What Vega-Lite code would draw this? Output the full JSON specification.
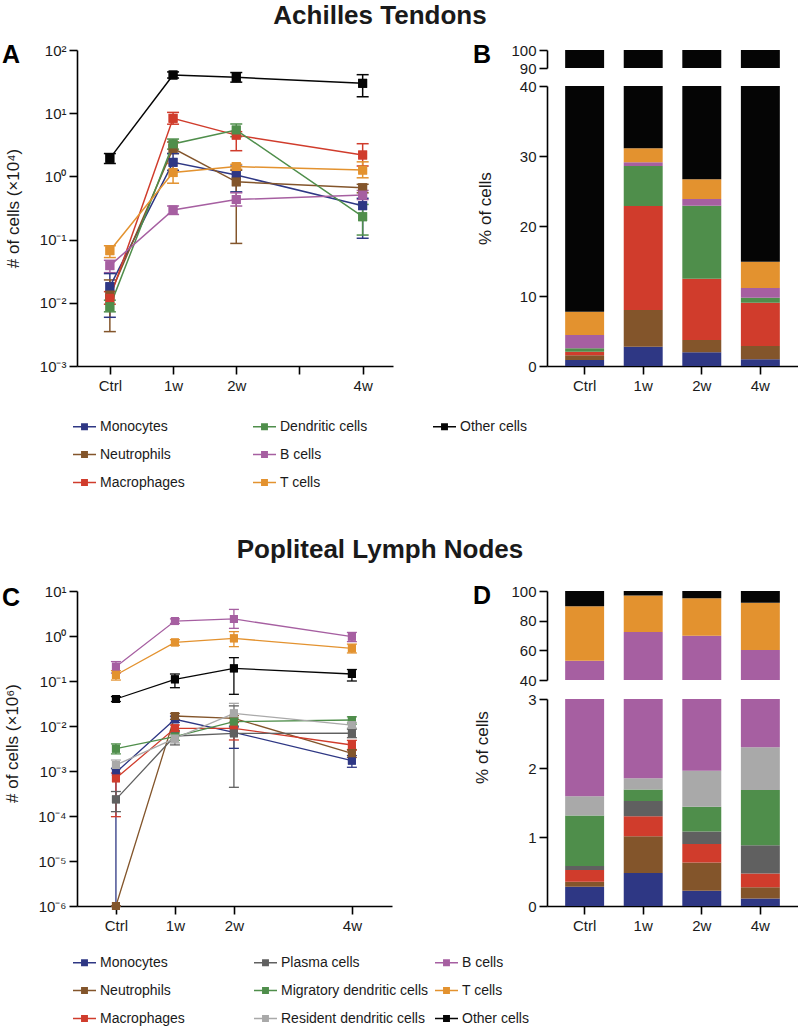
{
"$schema": "https://vega.github.io/schema/vega-lite/v6.json",
"background": "white",
"padding": {"left": 2, "top": 3, "right": 0, "bottom": 0},
"datasets": {
"A": [
{"cell":"Monocytes","t":0,"v":0.018,"lo":0.0059,"hi":0.029},
{"cell":"Monocytes","t":1,"v":1.67,"lo":1.25,"hi":2.3},
{"cell":"Monocytes","t":2,"v":1.05,"lo":0.57,"hi":1.45},
{"cell":"Monocytes","t":4,"v":0.344,"lo":0.105,"hi":0.45},
{"cell":"Neutrophils","t":0,"v":0.0133,"lo":0.0035,"hi":0.023},
{"cell":"Neutrophils","t":1,"v":2.78,"lo":2.3,"hi":3.5},
{"cell":"Neutrophils","t":2,"v":0.82,"lo":0.087,"hi":1.25},
{"cell":"Neutrophils","t":4,"v":0.66,"lo":0.55,"hi":0.75},
{"cell":"Macrophages","t":0,"v":0.0118,"lo":0.0095,"hi":0.015},
{"cell":"Macrophages","t":1,"v":8.3,"lo":6.7,"hi":10.3},
{"cell":"Macrophages","t":2,"v":4.5,"lo":2.55,"hi":5.1},
{"cell":"Macrophages","t":4,"v":2.18,"lo":1.46,"hi":3.29},
{"cell":"Dendritic cells","t":0,"v":0.0087,"lo":0.0072,"hi":0.011},
{"cell":"Dendritic cells","t":1,"v":3.26,"lo":2.7,"hi":3.9},
{"cell":"Dendritic cells","t":2,"v":5.42,"lo":4.25,"hi":6.75},
{"cell":"Dendritic cells","t":4,"v":0.23,"lo":0.118,"hi":0.36},
{"cell":"B cells","t":0,"v":0.0387,"lo":0.03,"hi":0.047},
{"cell":"B cells","t":1,"v":0.294,"lo":0.25,"hi":0.34},
{"cell":"B cells","t":2,"v":0.43,"lo":0.34,"hi":0.55},
{"cell":"B cells","t":4,"v":0.508,"lo":0.43,"hi":0.6},
{"cell":"T cells","t":0,"v":0.0668,"lo":0.052,"hi":0.08},
{"cell":"T cells","t":1,"v":1.15,"lo":0.78,"hi":1.6},
{"cell":"T cells","t":2,"v":1.43,"lo":1.3,"hi":1.55},
{"cell":"T cells","t":4,"v":1.26,"lo":0.95,"hi":1.7},
{"cell":"Other cells","t":0,"v":1.93,"lo":1.6,"hi":2.3},
{"cell":"Other cells","t":1,"v":40.2,"lo":36,"hi":45},
{"cell":"Other cells","t":2,"v":36.9,"lo":31,"hi":44},
{"cell":"Other cells","t":4,"v":29.7,"lo":18.2,"hi":40.7}
],
"C": [
{"cell":"Monocytes","t":0,"v":0.00093,"lo":0.000001,"hi":0.00115},
{"cell":"Monocytes","t":1,"v":0.0141,"lo":0.012,"hi":0.0165},
{"cell":"Monocytes","t":2,"v":0.00723,"lo":0.00319,"hi":0.0095},
{"cell":"Monocytes","t":4,"v":0.0017,"lo":0.00121,"hi":0.0022},
{"cell":"Neutrophils","t":0,"v":0.000001,"lo":0.000001,"hi":0.000001},
{"cell":"Neutrophils","t":1,"v":0.0167,"lo":0.014,"hi":0.019},
{"cell":"Neutrophils","t":2,"v":0.0148,"lo":0.012,"hi":0.017},
{"cell":"Neutrophils","t":4,"v":0.00247,"lo":0.002,"hi":0.003},
{"cell":"Macrophages","t":0,"v":0.000687,"lo":0.0000966,"hi":0.0009},
{"cell":"Macrophages","t":1,"v":0.00887,"lo":0.0075,"hi":0.0105},
{"cell":"Macrophages","t":2,"v":0.00887,"lo":0.00489,"hi":0.012},
{"cell":"Macrophages","t":4,"v":0.00378,"lo":0.0029,"hi":0.0048},
{"cell":"Plasma cells","t":0,"v":0.000234,"lo":0.000125,"hi":0.00035},
{"cell":"Plasma cells","t":1,"v":0.006,"lo":0.0038,"hi":0.008},
{"cell":"Plasma cells","t":2,"v":0.00687,"lo":0.000434,"hi":0.028},
{"cell":"Plasma cells","t":4,"v":0.0069,"lo":0.0055,"hi":0.0085},
{"cell":"Migratory dendritic cells","t":0,"v":0.00313,"lo":0.0024,"hi":0.004},
{"cell":"Migratory dendritic cells","t":1,"v":0.0058,"lo":0.0048,"hi":0.007},
{"cell":"Migratory dendritic cells","t":2,"v":0.0125,"lo":0.01,"hi":0.015},
{"cell":"Migratory dendritic cells","t":4,"v":0.0136,"lo":0.011,"hi":0.016},
{"cell":"Resident dendritic cells","t":0,"v":0.00136,"lo":0.0011,"hi":0.00175},
{"cell":"Resident dendritic cells","t":1,"v":0.0053,"lo":0.0042,"hi":0.0065},
{"cell":"Resident dendritic cells","t":2,"v":0.0191,"lo":0.012,"hi":0.0319},
{"cell":"Resident dendritic cells","t":4,"v":0.0105,"lo":0.009,"hi":0.012},
{"cell":"B cells","t":0,"v":0.208,"lo":0.15,"hi":0.27},
{"cell":"B cells","t":1,"v":2.15,"lo":1.9,"hi":2.4},
{"cell":"B cells","t":2,"v":2.39,"lo":1.48,"hi":3.9},
{"cell":"B cells","t":4,"v":0.966,"lo":0.75,"hi":1.2},
{"cell":"T cells","t":0,"v":0.136,"lo":0.105,"hi":0.17},
{"cell":"T cells","t":1,"v":0.72,"lo":0.62,"hi":0.83},
{"cell":"T cells","t":2,"v":0.887,"lo":0.58,"hi":1.25},
{"cell":"T cells","t":4,"v":0.53,"lo":0.42,"hi":0.66},
{"cell":"Other cells","t":0,"v":0.0398,"lo":0.035,"hi":0.045},
{"cell":"Other cells","t":1,"v":0.109,"lo":0.071,"hi":0.143},
{"cell":"Other cells","t":2,"v":0.191,"lo":0.0506,"hi":0.33},
{"cell":"Other cells","t":4,"v":0.143,"lo":0.1,"hi":0.18}
],
"B": [
{"t":"Ctrl","cell":"Monocytes","k":1,"pct":0.86},
{"t":"Ctrl","cell":"Neutrophils","k":2,"pct":0.66},
{"t":"Ctrl","cell":"Macrophages","k":3,"pct":0.53},
{"t":"Ctrl","cell":"Dendritic cells","k":4,"pct":0.47},
{"t":"Ctrl","cell":"B cells","k":5,"pct":1.91},
{"t":"Ctrl","cell":"T cells","k":6,"pct":3.33},
{"t":"Ctrl","cell":"Other cells","k":7,"pct":92.24},
{"t":"1w","cell":"Monocytes","k":1,"pct":2.76},
{"t":"1w","cell":"Neutrophils","k":2,"pct":5.24},
{"t":"1w","cell":"Macrophages","k":3,"pct":14.86},
{"t":"1w","cell":"Dendritic cells","k":4,"pct":5.71},
{"t":"1w","cell":"B cells","k":5,"pct":0.53},
{"t":"1w","cell":"T cells","k":6,"pct":2.0},
{"t":"1w","cell":"Other cells","k":7,"pct":68.9},
{"t":"2w","cell":"Monocytes","k":1,"pct":1.95},
{"t":"2w","cell":"Neutrophils","k":2,"pct":1.76},
{"t":"2w","cell":"Macrophages","k":3,"pct":8.76},
{"t":"2w","cell":"Dendritic cells","k":4,"pct":10.43},
{"t":"2w","cell":"B cells","k":5,"pct":0.96},
{"t":"2w","cell":"T cells","k":6,"pct":2.81},
{"t":"2w","cell":"Other cells","k":7,"pct":73.33},
{"t":"4w","cell":"Monocytes","k":1,"pct":0.95},
{"t":"4w","cell":"Neutrophils","k":2,"pct":1.91},
{"t":"4w","cell":"Macrophages","k":3,"pct":6.19},
{"t":"4w","cell":"Dendritic cells","k":4,"pct":0.71},
{"t":"4w","cell":"B cells","k":5,"pct":1.38},
{"t":"4w","cell":"T cells","k":6,"pct":3.76},
{"t":"4w","cell":"Other cells","k":7,"pct":85.1}
],
"D": [
{"t":"Ctrl","cell":"Monocytes","k":1,"pct":0.28},
{"t":"Ctrl","cell":"Neutrophils","k":2,"pct":0.07},
{"t":"Ctrl","cell":"Macrophages","k":3,"pct":0.17},
{"t":"Ctrl","cell":"Plasma cells","k":4,"pct":0.06},
{"t":"Ctrl","cell":"Migratory dendritic cells","k":5,"pct":0.73},
{"t":"Ctrl","cell":"Resident dendritic cells","k":6,"pct":0.28},
{"t":"Ctrl","cell":"B cells","k":7,"pct":51.31},
{"t":"Ctrl","cell":"T cells","k":8,"pct":36.9},
{"t":"Ctrl","cell":"Other cells","k":9,"pct":10.2},
{"t":"1w","cell":"Monocytes","k":1,"pct":0.48},
{"t":"1w","cell":"Neutrophils","k":2,"pct":0.53},
{"t":"1w","cell":"Macrophages","k":3,"pct":0.29},
{"t":"1w","cell":"Plasma cells","k":4,"pct":0.22},
{"t":"1w","cell":"Migratory dendritic cells","k":5,"pct":0.17},
{"t":"1w","cell":"Resident dendritic cells","k":6,"pct":0.16},
{"t":"1w","cell":"B cells","k":7,"pct":70.55},
{"t":"1w","cell":"T cells","k":8,"pct":24.5},
{"t":"1w","cell":"Other cells","k":9,"pct":3.1},
{"t":"2w","cell":"Monocytes","k":1,"pct":0.22},
{"t":"2w","cell":"Neutrophils","k":2,"pct":0.41},
{"t":"2w","cell":"Macrophages","k":3,"pct":0.27},
{"t":"2w","cell":"Plasma cells","k":4,"pct":0.18},
{"t":"2w","cell":"Migratory dendritic cells","k":5,"pct":0.36},
{"t":"2w","cell":"Resident dendritic cells","k":6,"pct":0.52},
{"t":"2w","cell":"B cells","k":7,"pct":67.84},
{"t":"2w","cell":"T cells","k":8,"pct":25.3},
{"t":"2w","cell":"Other cells","k":9,"pct":4.9},
{"t":"4w","cell":"Monocytes","k":1,"pct":0.11},
{"t":"4w","cell":"Neutrophils","k":2,"pct":0.16},
{"t":"4w","cell":"Macrophages","k":3,"pct":0.2},
{"t":"4w","cell":"Plasma cells","k":4,"pct":0.41},
{"t":"4w","cell":"Migratory dendritic cells","k":5,"pct":0.8},
{"t":"4w","cell":"Resident dendritic cells","k":6,"pct":0.62},
{"t":"4w","cell":"B cells","k":7,"pct":58.0},
{"t":"4w","cell":"T cells","k":8,"pct":31.7},
{"t":"4w","cell":"Other cells","k":9,"pct":8.0}
]
},
"vconcat": [
{
"title": {"text": "Achilles Tendons", "anchor": "middle", "frame": "group", "font": "Liberation Sans", "fontSize": 26, "fontWeight": "bold", "color": "#1a1a1a", "baseline": "alphabetic", "offset": 0, "dx": 303, "dy": 7},
"hconcat": [
{
"width": 316, "height": 316,
"data": {"name": "A"},
"title": {"text": "A", "anchor": "start", "frame": "group", "font": "Liberation Sans", "fontSize": 25, "fontWeight": "bold", "color": "#000", "baseline": "alphabetic", "offset": 0, "dx": -75, "dy": 45},
"encoding": {
"x": {"field": "t", "type": "quantitative", "scale": {"domain": [-0.52, 4.48], "nice": false, "zero": false},
"axis": {"values": [0,1,2,3,4], "labelExpr": "datum.value == 0 ? 'Ctrl' : datum.value == 3 ? '' : datum.value + 'w'", "title": null, "labelAngle": 0, "labelPadding": 4}}
},
"layer": [
{"mark": {"type": "point", "shape": "square", "filled": true, "size": 80, "opacity": 1},
"encoding": {
"y": {"field": "v", "type": "quantitative", "scale": {"type": "log", "domain": [0.001, 100], "nice": false}, "axis": {"values": [0.001,0.01,0.1,1,10,100], "labelExpr": "datum.value > 50 ? '10²' : datum.value > 5 ? '10¹' : datum.value > 0.5 ? '10⁰' : datum.value > 0.05 ? '10⁻¹' : datum.value > 0.005 ? '10⁻²' : '10⁻³'", "title": "# of cells (×10⁴)", "titleX": -64, "titleY": 158, "titleBaseline": "middle", "titleAlign": "center", "titleAngle": 270}},
"color": {"field": "cell", "type": "nominal", "scale": {"domain": ["Monocytes","Dendritic cells","Other cells","Neutrophils","B cells","_","Macrophages","T cells"], "range": ["#2e3784","#4f8e4b","#050505","#83552b","#a65fa1","rgba(0,0,0,0)","#d03c2c","#e3922f"]},
"legend": {"title": null, "orient": "none", "legendX": -4, "legendY": 365, "columns": 3, "direction": "horizontal", "gridAlign": "all", "columnPadding": 65, "rowPadding": 9, "padding": 0, "symbolType": "M-1,-0.065L1,-0.065L1,0.065L-1,0.065ZM-0.3,-0.3L0.3,-0.3L0.3,0.3L-0.3,0.3Z", "symbolSize": 529, "symbolStrokeWidth": 0, "symbolOpacity": 1, "labelFont": "Liberation Sans", "labelFontSize": 14, "labelColor": "#1a1a1a", "labelOffset": 4, "labelLimit": 400, "labelExpr": "datum.label == '_' ? '' : datum.label"}}
}},
{"mark": {"type": "rule", "strokeWidth": 1.5},
"encoding": {
"y": {"field": "lo", "type": "quantitative", "scale": {"type": "log", "domain": [0.001, 100], "nice": false}, "axis": {"values": [0.001,0.01,0.1,1,10,100], "labelExpr": "datum.value > 50 ? '10²' : datum.value > 5 ? '10¹' : datum.value > 0.5 ? '10⁰' : datum.value > 0.05 ? '10⁻¹' : datum.value > 0.005 ? '10⁻²' : '10⁻³'", "title": "# of cells (×10⁴)", "titleX": -64, "titleY": 158, "titleBaseline": "middle", "titleAlign": "center", "titleAngle": 270}},
"y2": {"field": "hi"},
"color": {"field": "cell", "type": "nominal", "scale": {"domain": ["Monocytes","Dendritic cells","Other cells","Neutrophils","B cells","_","Macrophages","T cells"], "range": ["#2e3784","#4f8e4b","#050505","#83552b","#a65fa1","rgba(0,0,0,0)","#d03c2c","#e3922f"]}}
}},
{"mark": {"type": "tick", "orient": "horizontal", "size": 12, "thickness": 1.5, "opacity": 1},
"encoding": {
"y": {"field": "lo", "type": "quantitative", "scale": {"type": "log", "domain": [0.001, 100], "nice": false}, "axis": {"values": [0.001,0.01,0.1,1,10,100], "labelExpr": "datum.value > 50 ? '10²' : datum.value > 5 ? '10¹' : datum.value > 0.5 ? '10⁰' : datum.value > 0.05 ? '10⁻¹' : datum.value > 0.005 ? '10⁻²' : '10⁻³'", "title": "# of cells (×10⁴)", "titleX": -64, "titleY": 158, "titleBaseline": "middle", "titleAlign": "center", "titleAngle": 270}},
"color": {"field": "cell", "type": "nominal", "scale": {"domain": ["Monocytes","Dendritic cells","Other cells","Neutrophils","B cells","_","Macrophages","T cells"], "range": ["#2e3784","#4f8e4b","#050505","#83552b","#a65fa1","rgba(0,0,0,0)","#d03c2c","#e3922f"]}}
}},
{"mark": {"type": "tick", "orient": "horizontal", "size": 12, "thickness": 1.5, "opacity": 1},
"encoding": {
"y": {"field": "hi", "type": "quantitative", "scale": {"type": "log", "domain": [0.001, 100], "nice": false}, "axis": {"values": [0.001,0.01,0.1,1,10,100], "labelExpr": "datum.value > 50 ? '10²' : datum.value > 5 ? '10¹' : datum.value > 0.5 ? '10⁰' : datum.value > 0.05 ? '10⁻¹' : datum.value > 0.005 ? '10⁻²' : '10⁻³'", "title": "# of cells (×10⁴)", "titleX": -64, "titleY": 158, "titleBaseline": "middle", "titleAlign": "center", "titleAngle": 270}},
"color": {"field": "cell", "type": "nominal", "scale": {"domain": ["Monocytes","Dendritic cells","Other cells","Neutrophils","B cells","_","Macrophages","T cells"], "range": ["#2e3784","#4f8e4b","#050505","#83552b","#a65fa1","rgba(0,0,0,0)","#d03c2c","#e3922f"]}}
}},
{"mark": {"type": "line", "strokeWidth": 1.5},
"encoding": {
"y": {"field": "v", "type": "quantitative", "scale": {"type": "log", "domain": [0.001, 100], "nice": false}, "axis": {"values": [0.001,0.01,0.1,1,10,100], "labelExpr": "datum.value > 50 ? '10²' : datum.value > 5 ? '10¹' : datum.value > 0.5 ? '10⁰' : datum.value > 0.05 ? '10⁻¹' : datum.value > 0.005 ? '10⁻²' : '10⁻³'", "title": "# of cells (×10⁴)", "titleX": -64, "titleY": 158, "titleBaseline": "middle", "titleAlign": "center", "titleAngle": 270}},
"color": {"field": "cell", "type": "nominal", "scale": {"domain": ["Monocytes","Dendritic cells","Other cells","Neutrophils","B cells","_","Macrophages","T cells"], "range": ["#2e3784","#4f8e4b","#050505","#83552b","#a65fa1","rgba(0,0,0,0)","#d03c2c","#e3922f"]}}
}},
{"mark": {"type": "point", "shape": "square", "filled": true, "size": 80, "opacity": 1},
"encoding": {
"y": {"field": "v", "type": "quantitative", "scale": {"type": "log", "domain": [0.001, 100], "nice": false}, "axis": {"values": [0.001,0.01,0.1,1,10,100], "labelExpr": "datum.value > 50 ? '10²' : datum.value > 5 ? '10¹' : datum.value > 0.5 ? '10⁰' : datum.value > 0.05 ? '10⁻¹' : datum.value > 0.005 ? '10⁻²' : '10⁻³'", "title": "# of cells (×10⁴)", "titleX": -64, "titleY": 158, "titleBaseline": "middle", "titleAlign": "center", "titleAngle": 270}},
"color": {"field": "cell", "type": "nominal", "scale": {"domain": ["Monocytes","Dendritic cells","Other cells","Neutrophils","B cells","_","Macrophages","T cells"], "range": ["#2e3784","#4f8e4b","#050505","#83552b","#a65fa1","rgba(0,0,0,0)","#d03c2c","#e3922f"]}}
}}
]
},
{
"vconcat": [
{
"width": 251, "height": 18,
"data": {"name": "B"},
"title": {"text": "B", "anchor": "start", "frame": "group", "font": "Liberation Sans", "fontSize": 25, "fontWeight": "bold", "color": "#000", "baseline": "alphabetic", "offset": 0, "dx": -74, "dy": 45},
"mark": {"type": "bar", "clip": true},
"encoding": {
"x": {"field": "t", "type": "nominal", "sort": ["Ctrl","1w","2w","4w"], "scale": {"paddingInner": 0.335, "paddingOuter": 0.31}, "axis": null},
"y": {"field": "pct", "type": "quantitative", "stack": "zero", "scale": {"domain": [90, 100], "nice": false, "zero": false}, "axis": {"values": [90, 100], "title": null}},
"color": {"field": "cell", "type": "nominal", "scale": {"domain": ["Monocytes","Neutrophils","Macrophages","Dendritic cells","B cells","T cells","Other cells"], "range": ["#2e3784","#83552b","#d03c2c","#4f8e4b","#a65fa1","#e3922f","#050505"]}, "legend": null},
"order": {"field": "k", "type": "quantitative"}
}
},
{
"width": 251, "height": 280,
"data": {"name": "B"},
"mark": {"type": "bar", "clip": true},
"encoding": {
"x": {"field": "t", "type": "nominal", "sort": ["Ctrl","1w","2w","4w"], "scale": {"paddingInner": 0.335, "paddingOuter": 0.31}, "axis": {"title": null, "labelAngle": 0, "bandPosition": 0.5, "labelPadding": 4}},
"y": {"field": "pct", "type": "quantitative", "stack": "zero", "scale": {"domain": [0, 40], "nice": false}, "axis": {"values": [0, 10, 20, 30, 40], "title": "% of cells", "titleX": -62, "titleY": 122, "titleBaseline": "middle", "titleAlign": "center", "titleAngle": 270}},
"color": {"field": "cell", "type": "nominal", "scale": {"domain": ["Monocytes","Neutrophils","Macrophages","Dendritic cells","B cells","T cells","Other cells"], "range": ["#2e3784","#83552b","#d03c2c","#4f8e4b","#a65fa1","#e3922f","#050505"]}, "legend": null},
"order": {"field": "k", "type": "quantitative"}
}
}
],
"spacing": 18,
"bounds": "flush",
"resolve": {"scale": {"color": "independent"}, "legend": {"color": "independent"}}
}
],
"spacing": 154,
"bounds": "flush",
"resolve": {"scale": {"color": "independent"}, "legend": {"color": "independent"}}
},
{
"title": {"text": "Popliteal Lymph Nodes", "anchor": "middle", "frame": "group", "font": "Liberation Sans", "fontSize": 26, "fontWeight": "bold", "color": "#1a1a1a", "baseline": "alphabetic", "offset": 0, "dx": 303, "dy": 0},
"hconcat": [
{
"width": 315, "height": 315,
"data": {"name": "C"},
"title": {"text": "C", "anchor": "start", "frame": "group", "font": "Liberation Sans", "fontSize": 25, "fontWeight": "bold", "color": "#000", "baseline": "alphabetic", "offset": 0, "dx": -75, "dy": 47},
"encoding": {
"x": {"field": "t", "type": "quantitative", "scale": {"domain": [-0.66, 4.68], "nice": false, "zero": false},
"axis": {"values": [0,1,2,4], "labelExpr": "datum.value == 0 ? 'Ctrl' : datum.value + 'w'", "title": null, "labelAngle": 0, "labelPadding": 4}}
},
"layer": [
{"mark": {"type": "point", "shape": "square", "filled": true, "size": 64, "opacity": 1},
"encoding": {
"y": {"field": "v", "type": "quantitative", "scale": {"type": "log", "domain": [0.000001, 10], "nice": false}, "axis": {"values": [0.000001,0.00001,0.0001,0.001,0.01,0.1,1,10], "labelExpr": "datum.value > 5 ? '10¹' : datum.value > 0.5 ? '10⁰' : datum.value > 0.05 ? '10⁻¹' : datum.value > 0.005 ? '10⁻²' : datum.value > 0.0005 ? '10⁻³' : datum.value > 0.00005 ? '10⁻⁴' : datum.value > 0.000005 ? '10⁻⁵' : '10⁻⁶'", "title": "# of cells (×10⁶)", "titleX": -65, "titleY": 152, "titleBaseline": "middle", "titleAlign": "center", "titleAngle": 270}},
"color": {"field": "cell", "type": "nominal", "scale": {"domain": ["Monocytes","Plasma cells","B cells","Neutrophils","Migratory dendritic cells","T cells","Macrophages","Resident dendritic cells","Other cells"], "range": ["#2e3784","#606060","#a65fa1","#83552b","#4f8e4b","#e3922f","#d03c2c","#a9a9a9","#050505"]},
"legend": {"title": null, "orient": "none", "legendX": -4, "legendY": 360, "columns": 3, "direction": "horizontal", "gridAlign": "all", "columnPadding": 6, "rowPadding": 9, "padding": 0, "symbolType": "M-1,-0.065L1,-0.065L1,0.065L-1,0.065ZM-0.3,-0.3L0.3,-0.3L0.3,0.3L-0.3,0.3Z", "symbolSize": 529, "symbolStrokeWidth": 0, "symbolOpacity": 1, "labelFont": "Liberation Sans", "labelFontSize": 14, "labelColor": "#1a1a1a", "labelOffset": 4, "labelLimit": 400}}
}},
{"mark": {"type": "rule", "strokeWidth": 1.3},
"encoding": {
"y": {"field": "lo", "type": "quantitative", "scale": {"type": "log", "domain": [0.000001, 10], "nice": false}, "axis": {"values": [0.000001,0.00001,0.0001,0.001,0.01,0.1,1,10], "labelExpr": "datum.value > 5 ? '10¹' : datum.value > 0.5 ? '10⁰' : datum.value > 0.05 ? '10⁻¹' : datum.value > 0.005 ? '10⁻²' : datum.value > 0.0005 ? '10⁻³' : datum.value > 0.00005 ? '10⁻⁴' : datum.value > 0.000005 ? '10⁻⁵' : '10⁻⁶'", "title": "# of cells (×10⁶)", "titleX": -65, "titleY": 152, "titleBaseline": "middle", "titleAlign": "center", "titleAngle": 270}},
"y2": {"field": "hi"},
"color": {"field": "cell", "type": "nominal", "scale": {"domain": ["Monocytes","Plasma cells","B cells","Neutrophils","Migratory dendritic cells","T cells","Macrophages","Resident dendritic cells","Other cells"], "range": ["#2e3784","#606060","#a65fa1","#83552b","#4f8e4b","#e3922f","#d03c2c","#a9a9a9","#050505"]}}
}},
{"mark": {"type": "tick", "orient": "horizontal", "size": 10, "thickness": 1.3, "opacity": 1},
"encoding": {
"y": {"field": "lo", "type": "quantitative", "scale": {"type": "log", "domain": [0.000001, 10], "nice": false}, "axis": {"values": [0.000001,0.00001,0.0001,0.001,0.01,0.1,1,10], "labelExpr": "datum.value > 5 ? '10¹' : datum.value > 0.5 ? '10⁰' : datum.value > 0.05 ? '10⁻¹' : datum.value > 0.005 ? '10⁻²' : datum.value > 0.0005 ? '10⁻³' : datum.value > 0.00005 ? '10⁻⁴' : datum.value > 0.000005 ? '10⁻⁵' : '10⁻⁶'", "title": "# of cells (×10⁶)", "titleX": -65, "titleY": 152, "titleBaseline": "middle", "titleAlign": "center", "titleAngle": 270}},
"color": {"field": "cell", "type": "nominal", "scale": {"domain": ["Monocytes","Plasma cells","B cells","Neutrophils","Migratory dendritic cells","T cells","Macrophages","Resident dendritic cells","Other cells"], "range": ["#2e3784","#606060","#a65fa1","#83552b","#4f8e4b","#e3922f","#d03c2c","#a9a9a9","#050505"]}}
}},
{"mark": {"type": "tick", "orient": "horizontal", "size": 10, "thickness": 1.3, "opacity": 1},
"encoding": {
"y": {"field": "hi", "type": "quantitative", "scale": {"type": "log", "domain": [0.000001, 10], "nice": false}, "axis": {"values": [0.000001,0.00001,0.0001,0.001,0.01,0.1,1,10], "labelExpr": "datum.value > 5 ? '10¹' : datum.value > 0.5 ? '10⁰' : datum.value > 0.05 ? '10⁻¹' : datum.value > 0.005 ? '10⁻²' : datum.value > 0.0005 ? '10⁻³' : datum.value > 0.00005 ? '10⁻⁴' : datum.value > 0.000005 ? '10⁻⁵' : '10⁻⁶'", "title": "# of cells (×10⁶)", "titleX": -65, "titleY": 152, "titleBaseline": "middle", "titleAlign": "center", "titleAngle": 270}},
"color": {"field": "cell", "type": "nominal", "scale": {"domain": ["Monocytes","Plasma cells","B cells","Neutrophils","Migratory dendritic cells","T cells","Macrophages","Resident dendritic cells","Other cells"], "range": ["#2e3784","#606060","#a65fa1","#83552b","#4f8e4b","#e3922f","#d03c2c","#a9a9a9","#050505"]}}
}},
{"mark": {"type": "line", "strokeWidth": 1.3},
"encoding": {
"y": {"field": "v", "type": "quantitative", "scale": {"type": "log", "domain": [0.000001, 10], "nice": false}, "axis": {"values": [0.000001,0.00001,0.0001,0.001,0.01,0.1,1,10], "labelExpr": "datum.value > 5 ? '10¹' : datum.value > 0.5 ? '10⁰' : datum.value > 0.05 ? '10⁻¹' : datum.value > 0.005 ? '10⁻²' : datum.value > 0.0005 ? '10⁻³' : datum.value > 0.00005 ? '10⁻⁴' : datum.value > 0.000005 ? '10⁻⁵' : '10⁻⁶'", "title": "# of cells (×10⁶)", "titleX": -65, "titleY": 152, "titleBaseline": "middle", "titleAlign": "center", "titleAngle": 270}},
"color": {"field": "cell", "type": "nominal", "scale": {"domain": ["Monocytes","Plasma cells","B cells","Neutrophils","Migratory dendritic cells","T cells","Macrophages","Resident dendritic cells","Other cells"], "range": ["#2e3784","#606060","#a65fa1","#83552b","#4f8e4b","#e3922f","#d03c2c","#a9a9a9","#050505"]}}
}},
{"mark": {"type": "point", "shape": "square", "filled": true, "size": 64, "opacity": 1},
"encoding": {
"y": {"field": "v", "type": "quantitative", "scale": {"type": "log", "domain": [0.000001, 10], "nice": false}, "axis": {"values": [0.000001,0.00001,0.0001,0.001,0.01,0.1,1,10], "labelExpr": "datum.value > 5 ? '10¹' : datum.value > 0.5 ? '10⁰' : datum.value > 0.05 ? '10⁻¹' : datum.value > 0.005 ? '10⁻²' : datum.value > 0.0005 ? '10⁻³' : datum.value > 0.00005 ? '10⁻⁴' : datum.value > 0.000005 ? '10⁻⁵' : '10⁻⁶'", "title": "# of cells (×10⁶)", "titleX": -65, "titleY": 152, "titleBaseline": "middle", "titleAlign": "center", "titleAngle": 270}},
"color": {"field": "cell", "type": "nominal", "scale": {"domain": ["Monocytes","Plasma cells","B cells","Neutrophils","Migratory dendritic cells","T cells","Macrophages","Resident dendritic cells","Other cells"], "range": ["#2e3784","#606060","#a65fa1","#83552b","#4f8e4b","#e3922f","#d03c2c","#a9a9a9","#050505"]}}
}}
]
},
{
"vconcat": [
{
"width": 251, "height": 89,
"data": {"name": "D"},
"title": {"text": "D", "anchor": "start", "frame": "group", "font": "Liberation Sans", "fontSize": 25, "fontWeight": "bold", "color": "#000", "baseline": "alphabetic", "offset": 0, "dx": -74, "dy": 45},
"mark": {"type": "bar", "clip": true},
"encoding": {
"x": {"field": "t", "type": "nominal", "sort": ["Ctrl","1w","2w","4w"], "scale": {"paddingInner": 0.335, "paddingOuter": 0.31}, "axis": null},
"y": {"field": "pct", "type": "quantitative", "stack": "zero", "scale": {"domain": [40, 100], "nice": false, "zero": false}, "axis": {"values": [40, 60, 80, 100], "title": null}},
"color": {"field": "cell", "type": "nominal", "scale": {"domain": ["Monocytes","Neutrophils","Macrophages","Plasma cells","Migratory dendritic cells","Resident dendritic cells","B cells","T cells","Other cells"], "range": ["#2e3784","#83552b","#d03c2c","#606060","#4f8e4b","#a9a9a9","#a65fa1","#e3922f","#050505"]}, "legend": null},
"order": {"field": "k", "type": "quantitative"}
}
},
{
"width": 251, "height": 207,
"data": {"name": "D"},
"mark": {"type": "bar", "clip": true},
"encoding": {
"x": {"field": "t", "type": "nominal", "sort": ["Ctrl","1w","2w","4w"], "scale": {"paddingInner": 0.335, "paddingOuter": 0.31}, "axis": {"title": null, "labelAngle": 0, "bandPosition": 0.5, "labelPadding": 4}},
"y": {"field": "pct", "type": "quantitative", "stack": "zero", "scale": {"domain": [0, 3], "nice": false}, "axis": {"values": [0, 1, 2, 3], "title": "% of cells", "titleX": -65, "titleY": 48, "titleBaseline": "middle", "titleAlign": "center", "titleAngle": 270}},
"color": {"field": "cell", "type": "nominal", "scale": {"domain": ["Monocytes","Neutrophils","Macrophages","Plasma cells","Migratory dendritic cells","Resident dendritic cells","B cells","T cells","Other cells"], "range": ["#2e3784","#83552b","#d03c2c","#606060","#4f8e4b","#a9a9a9","#a65fa1","#e3922f","#050505"]}, "legend": null},
"order": {"field": "k", "type": "quantitative"}
}
}
],
"spacing": 19,
"bounds": "flush",
"resolve": {"scale": {"color": "independent"}, "legend": {"color": "independent"}}
}
],
"spacing": 155,
"bounds": "flush",
"resolve": {"scale": {"color": "independent"}, "legend": {"color": "independent"}}
}
],
"spacing": 541,
"bounds": "flush",
"resolve": {"scale": {"color": "independent"}, "legend": {"color": "independent"}},
"config": {
"view": {"stroke": null},
"font": "Liberation Sans",
"axis": {"labelFont": "Liberation Sans", "labelFontSize": 15, "labelColor": "#1a1a1a", "titleFont": "Liberation Sans", "titleFontSize": 17, "titleFontWeight": "normal", "titleColor": "#1a1a1a", "domainColor": "#000", "domainWidth": 1.6, "tickColor": "#000", "tickWidth": 1.6, "tickSize": 8, "labelPadding": 3, "grid": false, "labelOverlap": false, "labelFlush": false}
}
}
